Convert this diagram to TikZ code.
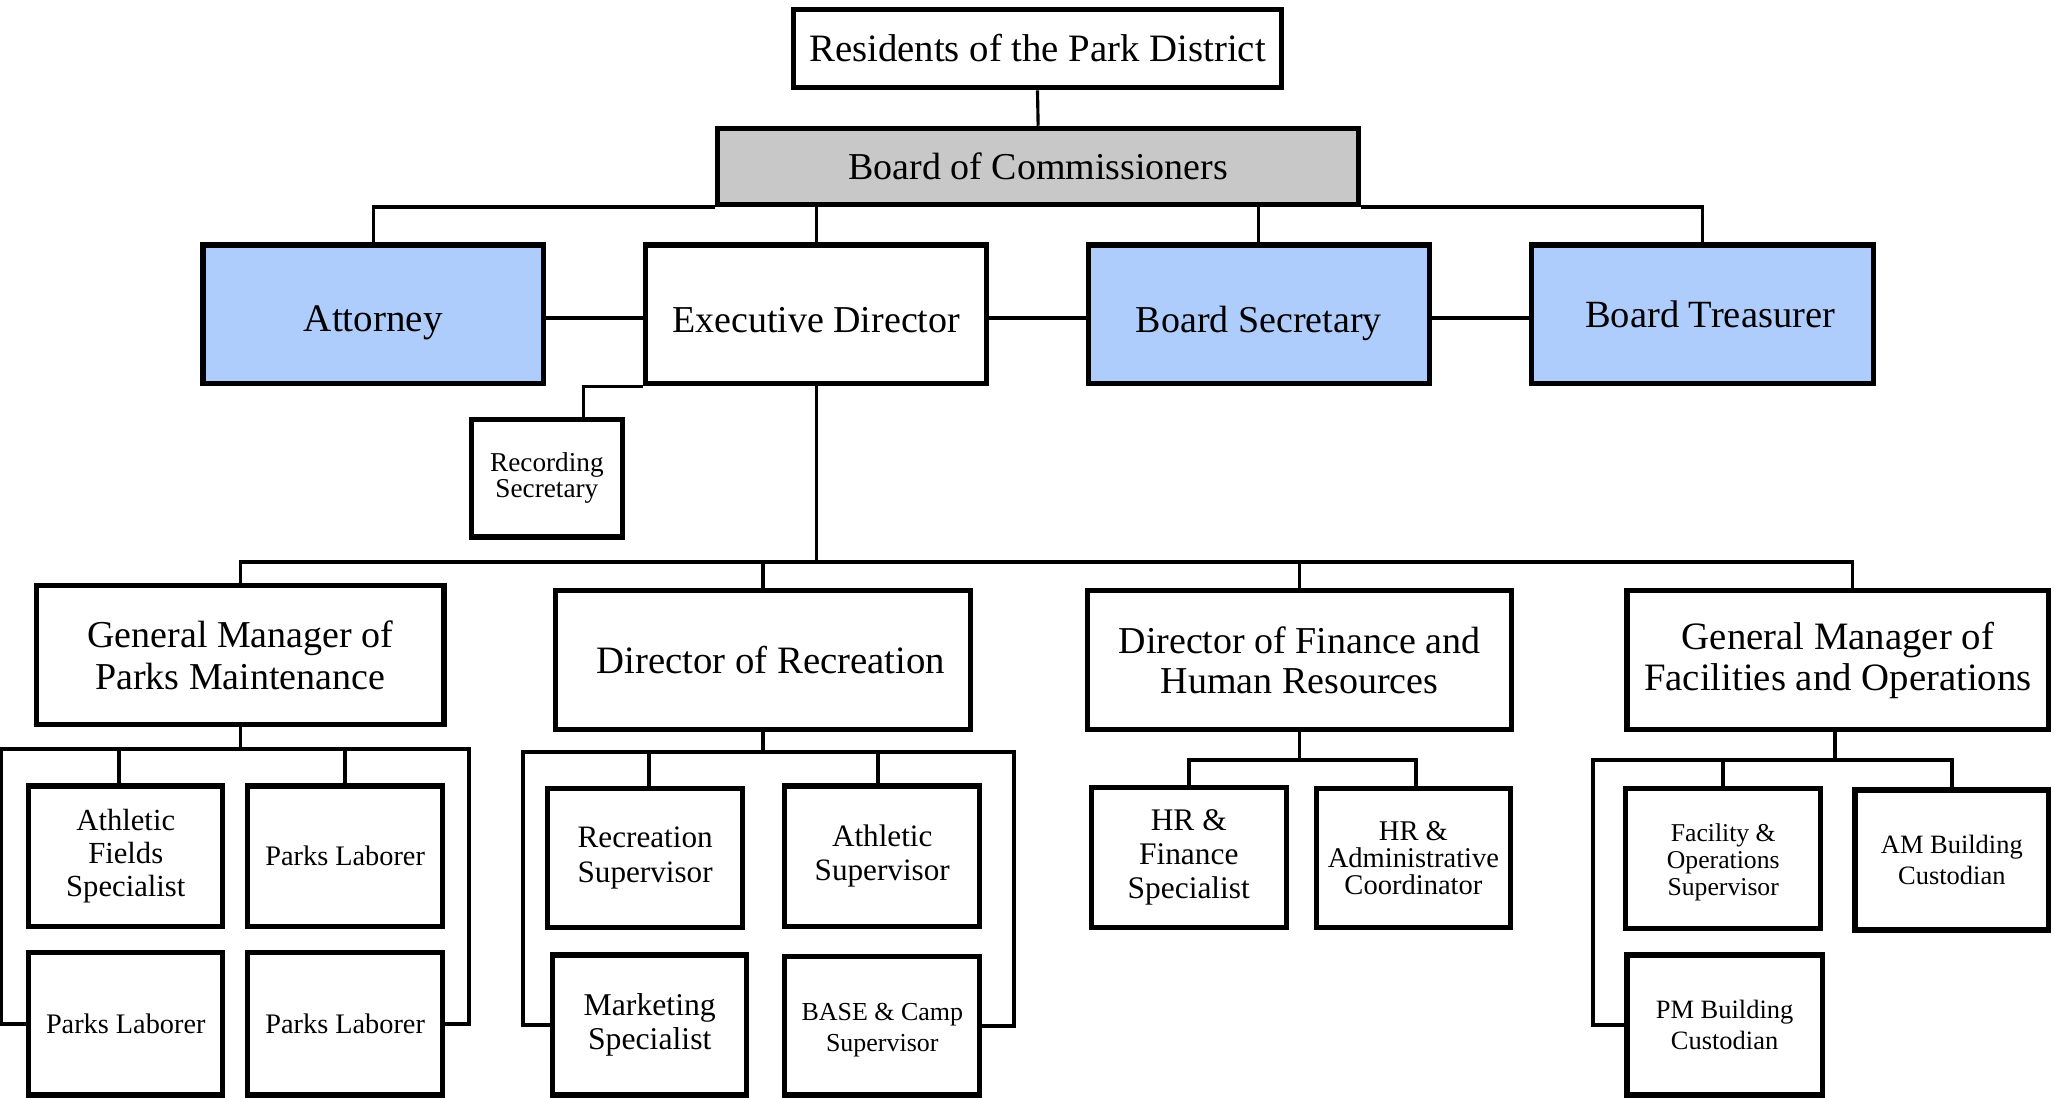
\documentclass[tikz,border=0pt]{standalone}
\usepackage{fontspec}
\setmainfont{Liberation Serif}
\definecolor{boxblue}{RGB}{175,205,252}
\definecolor{boxgray}{RGB}{200,200,200}
\newcommand\setfs[2]{\fontsize{#1}{#2}\selectfont}
\newcommand\obox[7]{%
  \pgfmathsetmacro\bw{(#4-#2)*0.5-2}%
  \pgfmathsetmacro\bh{(#5-#3)*0.5-2}%
  \node[box,#6,minimum width=\bw pt,minimum height=\bh pt] (#1) at ({(#2+#4)/2},{(#3+#5)/2}) {#7};}
\begin{document}
\begin{tikzpicture}[x=0.5pt,y=-0.5pt,
  box/.style={draw=black,line width=2pt,fill=white,inner sep=0pt,align=center},
  bluebox/.style={fill=boxblue},
  graybox/.style={fill=boxgray},
  big/.style={font=\setfs{14.5}{16}},
  conn/.style={line width=1.2pt},
  peer/.style={line width=1.6pt},
  grp/.style={line width=1.4pt,line join=miter}]
\useasboundingbox (0,0) rectangle (1568,838);

% top levels
\obox{res}{604}{5}{980}{69}{font=\setfs{14.8}{16}}{Residents of the Park District}
\obox{board}{546}{96}{1039}{158}{graybox,big}{Board of Commissioners}
\obox{att}{153}{185}{417}{295}{bluebox,font=\setfs{14.9}{16}}{\rule{0pt}{16pt}Attorney}
\obox{exec}{491}{185}{755}{295}{big}{\rule{0pt}{14pt}Executive Director}
\obox{sec}{829}{185}{1093}{295}{bluebox,big}{\rule{0pt}{17pt}Board Secretary}
\obox{treas}{1167}{185}{1432}{295}{bluebox,font=\setfs{14.7}{16}}{\hspace*{6pt}Board Treasurer}
\obox{rs}{358}{318}{477}{412}{font=\setfs{10.4}{10}}{Recording\\Secretary}

% directors
\obox{gmp}{26}{445}{341}{555}{big}{General Manager of\\Parks Maintenance}
\obox{dr}{422}{449}{743}{559}{font=\setfs{14.8}{16}}{\hspace*{6pt}Director of Recreation}
\obox{df}{828}{449}{1156}{559}{font=\setfs{14.5}{15.5}}{Director of Finance and\\Human Resources}
\obox{gmf}{1240}{449}{1566}{559}{font=\setfs{14.8}{15.5}}{General Manager of\\Facilities and Operations}

% parks maintenance staff
\obox{afs}{20}{598}{172}{709}{font=\setfs{11.7}{12.5}}{Athletic\\Fields\\Specialist}
\obox{pl1}{187}{598}{340}{709}{font=\setfs{10.8}{12}}{Parks Laborer}
\obox{pl2}{20}{725}{172}{838}{font=\setfs{10.8}{12}}{Parks Laborer}
\obox{pl3}{187}{725}{340}{838}{font=\setfs{10.8}{12}}{Parks Laborer}

% recreation staff
\obox{rsup}{416}{600}{569}{710}{font=\setfs{11.9}{13}}{Recreation\\Supervisor}
\obox{asup}{597}{598}{750}{709}{font=\setfs{11.9}{13}}{Athletic\\Supervisor}
\obox{mkt}{420}{727}{572}{838}{font=\setfs{12.1}{13}}{Marketing\\Specialist}
\obox{base}{597}{728}{750}{838}{font=\setfs{9.9}{12}}{\rule{0pt}{10pt}BASE \& Camp\\Supervisor}

% finance staff
\obox{hrf}{831}{599}{984}{710}{font=\setfs{12}{13}}{HR \&\\Finance\\Specialist}
\obox{hra}{1003}{600}{1155}{710}{font=\setfs{10.9}{10.3}}{HR \&\\Administrative\\Coordinator}

% facilities staff
\obox{fos}{1239}{600}{1392}{711}{font=\setfs{9.8}{10.3}}{\rule{0pt}{9.7pt}Facility \&\\Operations\\Supervisor}
\obox{am}{1414}{601}{1566}{712}{font=\setfs{10.1}{11.5}}{AM Building\\Custodian}
\obox{pm}{1240}{727}{1393}{838}{font=\setfs{10.1}{12}}{PM Building\\Custodian}

% top connectors
\draw[conn] (res.south) -- (board.north);
\draw[conn] (board.south west) -| (att.north);
\draw[conn] (board.south east) -| (treas.north);
\draw[conn] (exec.north |- board.south) -- (exec.north);
\draw[conn] (sec.north |- board.south) -- (sec.north);
\draw[peer] ([yshift=-1.5pt]att.east) -- ([yshift=-1.5pt]exec.west);
\draw[peer] ([yshift=-1.5pt]exec.east) -- ([yshift=-1.5pt]sec.west);
\draw[peer] ([yshift=-1.5pt]sec.east) -- ([yshift=-1.5pt]treas.west);
\draw[conn] (exec.south west) -| ([xshift=14pt]rs.north);

% bus to directors
\coordinate (bus) at (625,429);
\draw[conn] (exec.south) -- (exec.south |- bus);
\draw[conn] (gmp.north) |- ([xshift=5.5pt]gmf.north |- bus) -- ([xshift=5.5pt]gmf.north);
\draw[conn] (dr.north) -- (dr.north |- bus);
\draw[conn] (df.north) -- (df.north |- bus);

% parks group
\coordinate (pL) at (1,572);
\coordinate (pR) at (358,572);
\draw[grp] (gmp.south) -- (gmp.south |- pL);
\draw[grp] (pl2.west) -| (pL) -- (pR) |- (pl3.east);
\draw[grp] ([xshift=-2.5pt]afs.north) -- ([xshift=-2.5pt]afs.north |- pL);
\draw[grp] (pl1.north) -- (pl1.north |- pL);

% recreation group
\coordinate (rL) at (399,574);
\coordinate (rR) at (774,574);
\draw[grp] (dr.south) -- (dr.south |- rL);
\draw[grp] (mkt.west) -| (rL) -- (rR) |- (base.east);
\draw[grp] ([xshift=1.5pt]rsup.north) -- ([xshift=1.5pt]rsup.north |- rL);
\draw[grp] ([xshift=-1.5pt]asup.north) -- ([xshift=-1.5pt]asup.north |- rL);

% finance group
\coordinate (fB) at (992,580);
\draw[grp] (df.south) -- (df.south |- fB);
\draw[grp] (hrf.north) |- ([xshift=1pt]hra.north |- fB) -- ([xshift=1pt]hra.north);

% facilities group
\coordinate (oL) at (1216,580);
\draw[grp] ([xshift=-1pt]gmf.south) -- ([xshift=-1pt]gmf.south |- oL);
\draw[grp] (pm.west) -| (oL) -| (am.north);
\draw[grp] (fos.north) -- (fos.north |- oL);
\end{tikzpicture}
\end{document}
